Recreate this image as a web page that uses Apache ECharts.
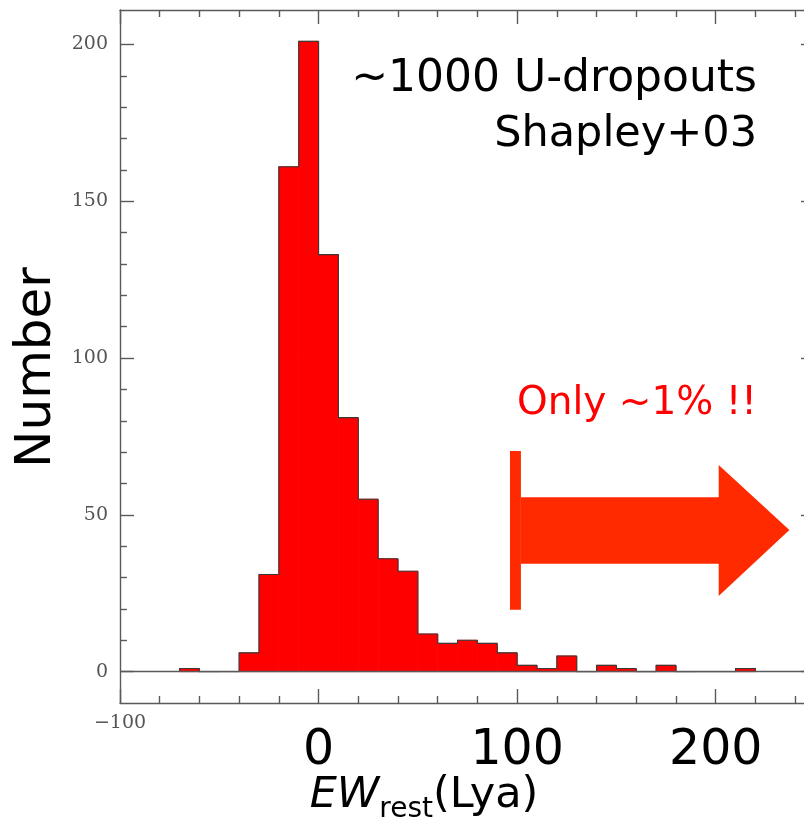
<!DOCTYPE html>
<html>
<head>
<meta charset="utf-8">
<script src="https://cdn.jsdelivr.net/npm/echarts@6/dist/echarts.min.js"></script>
<style>html,body{margin:0;padding:0;background:#fff;}#chart{width:804px;height:834px;}</style>
</head>
<body>
<div id="chart"></div>
<script>
// ---- data ----
const binStarts = [-70,-60,-50,-40,-30,-20,-10,0,10,20,30,40,50,60,70,80,90,100,110,120,130,140,150,160,170,180,190,200,210];
const counts    = [1,0,0,6,31,161,201,133,81,55,36,32,12,9,10,9,6,2,1,5,0,2,1,0,2,0,0,0,1];
const binWidth = 10;

const xMajorTicks = [-100, 0, 100, 200];
const xMinorTicks = [-80,-60,-40,-20,20,40,60,80,120,140,160,180,220,240];
const xSmallLabels = [-100];
const xBigLabels = [0, 100, 200];
const yMajorTicks = [0, 50, 100, 150, 200];
const yMinorTicks = [10,20,30,40,60,70,80,90,110,120,130,140,160,170,180,190];

// arrow annotation (data units)
const arrowBarX = [96.4, 101.9];
const arrowBarY = [19.7, 70.4];
const arrowShaftY = [34.4, 55.6];
const arrowHeadBaseX = 201.5;
const arrowHeadY = [24.1, 65.9];
const arrowTip = [237.1, 45.2];

const textLine1 = '~1000 U-dropouts';
const textLine2 = 'Shapley+03';
const textOnly = 'Only ~1% !!';

// ---- chart ----
const chart = echarts.init(document.getElementById('chart'), null, {renderer: 'canvas'});
const frameColor = '#5a5a5a';
const X_MIN = -100, X_MAX = 250, Y_MIN = -10, Y_MAX = 211;
const sans = 'DejaVu Sans';
const serif = 'DejaVu Serif';

const histData = binStarts.map((s, i) => [s, s + binWidth, counts[i], i > 0 ? counts[i - 1] : 0, i === binStarts.length - 1 ? 1 : 0]);

function xAxisBase(pos) {
  return {type: 'value', min: X_MIN, max: X_MAX, position: pos, splitLine: {show: false},
          axisLine: {show: false, onZero: false}, axisLabel: {show: false}, axisTick: {show: false}};
}
function yAxisBase(pos) {
  return {type: 'value', min: Y_MIN, max: Y_MAX, position: pos, splitLine: {show: false},
          axisLine: {show: false, onZero: false}, axisLabel: {show: false}, axisTick: {show: false}};
}
const lineSty = {color: frameColor, width: 1.4};

const option = {
  backgroundColor: '#fff',
  animation: false,
  grid: {left: 120, right: -11, top: 10, bottom: 131, containLabel: false, outerBoundsMode: 'none'},
  xAxis: [
    Object.assign(xAxisBase('bottom'), {
      axisLine: {show: true, onZero: false, lineStyle: lineSty},
      axisTick: {show: true, inside: true, length: 7, customValues: xMinorTicks, lineStyle: lineSty},
      axisLabel: {show: true, customValues: xSmallLabels, margin: 11, fontFamily: serif, fontSize: 19, color: '#555',
                  formatter: v => (v < 0 ? '\u2212' + Math.abs(v) : String(v))}
    }),
    Object.assign(xAxisBase('bottom'), {
      axisTick: {show: true, inside: true, length: 14, customValues: xMajorTicks, lineStyle: lineSty},
      axisLabel: {show: true, customValues: xBigLabels, margin: 24, fontFamily: sans, fontSize: 49, color: '#000'},
      name: '{it|EW}{sub|rest}{n|(Lya)}',
      nameLocation: 'middle',
      nameGap: 71,
      nameMoveOverlap: false,
      nameTextStyle: {
        padding: [0, 87, 0, 0],
        rich: {
          it: {fontFamily: sans, fontStyle: 'italic', fontSize: 43, lineHeight: 50, verticalAlign: 'top', color: '#000'},
          sub: {fontFamily: sans, fontSize: 28, lineHeight: 28, padding: [41, 0, 0, 0], verticalAlign: 'bottom', color: '#000'},
          n: {fontFamily: sans, fontSize: 43, lineHeight: 50, verticalAlign: 'top', color: '#000'}
        }
      }
    }),
    Object.assign(xAxisBase('top'), {
      axisLine: {show: true, onZero: false, lineStyle: lineSty},
      axisTick: {show: true, inside: true, length: 7, customValues: xMinorTicks, lineStyle: lineSty}
    }),
    Object.assign(xAxisBase('top'), {
      axisTick: {show: true, inside: true, length: 14, customValues: xMajorTicks, lineStyle: lineSty}
    })
  ],
  yAxis: [
    Object.assign(yAxisBase('left'), {
      axisLine: {show: true, onZero: false, lineStyle: lineSty},
      axisTick: {show: true, inside: true, length: 14, customValues: yMajorTicks, lineStyle: lineSty},
      axisLabel: {show: true, customValues: yMajorTicks, margin: 12, fontFamily: serif, fontSize: 19, color: '#555'},
      name: 'Number',
      nameLocation: 'middle',
      nameRotate: 90,
      nameGap: 58,
      nameMoveOverlap: false,
      nameTextStyle: {fontFamily: sans, fontSize: 50, color: '#000', padding: [0, 22, 0, 0]}
    }),
    Object.assign(yAxisBase('left'), {
      axisTick: {show: true, inside: true, length: 7, customValues: yMinorTicks, lineStyle: lineSty}
    }),
    Object.assign(yAxisBase('right'), {
      axisLine: {show: true, onZero: false, lineStyle: lineSty},
      axisTick: {show: true, inside: true, length: 14, customValues: yMajorTicks, lineStyle: lineSty}
    }),
    Object.assign(yAxisBase('right'), {
      axisTick: {show: true, inside: true, length: 7, customValues: yMinorTicks, lineStyle: lineSty}
    })
  ],
  series: [
    {
      type: 'custom',
      name: 'histogram',
      xAxisIndex: 0, yAxisIndex: 0,
      clip: true,
      silent: true,
      data: histData,
      renderItem: function (params, api) {
        const s = api.value(0), e = api.value(1), c = api.value(2), p = api.value(3), last = api.value(4);
        const tl = api.coord([s, c]);
        const br = api.coord([e, 0]);
        const children = [];
        if (c > 0) {
          children.push({type: 'rect', z2: 0, shape: {x: tl[0], y: tl[1], width: br[0] - tl[0], height: br[1] - tl[1]},
                         style: {fill: '#ff0000', stroke: '#ff0000', lineWidth: 0.8}});
        }
        const pts = [api.coord([s, p]), api.coord([s, c]), api.coord([e, c])];
        if (last) pts.push(api.coord([e, 0]));
        children.push({type: 'polyline', z2: 10, shape: {points: pts}, style: {fill: null, stroke: '#3a3a3a', lineWidth: 1.1}});
        return {type: 'group', children: children};
      },
      markLine: {
        silent: true, symbol: 'none', label: {show: false},
        lineStyle: {color: frameColor, width: 1.3, type: 'solid'},
        data: [{yAxis: 0}]
      },
      z: 2
    },
    {
      type: 'custom',
      name: 'arrow',
      xAxisIndex: 0, yAxisIndex: 0,
      silent: true,
      data: [[arrowTip[0], arrowTip[1]]],
      renderItem: function (params, api) {
        const poly = [
          api.coord([arrowBarX[1], arrowShaftY[0]]),
          api.coord([arrowHeadBaseX, arrowShaftY[0]]),
          api.coord([arrowHeadBaseX, arrowHeadY[0]]),
          api.coord([api.value(0), api.value(1)]),
          api.coord([arrowHeadBaseX, arrowHeadY[1]]),
          api.coord([arrowHeadBaseX, arrowShaftY[1]]),
          api.coord([arrowBarX[1], arrowShaftY[1]])
        ];
        const b0 = api.coord([arrowBarX[0], arrowBarY[1]]);
        const b1 = api.coord([arrowBarX[1], arrowBarY[0]]);
        return {type: 'group', children: [
          {type: 'polygon', shape: {points: poly}, style: {fill: '#ff2a00'}},
          {type: 'rect', shape: {x: b0[0], y: b0[1], width: b1[0] - b0[0], height: b1[1] - b0[1]}, style: {fill: '#ff2a00'}}
        ]};
      },
      z: 3
    }
  ],
  graphic: [
    {type: 'text', right: 47, top: 58, style: {text: textLine1, font: '44px "DejaVu Sans"', fill: '#000'}},
    {type: 'text', right: 47, top: 113, style: {text: textLine2, font: '43px "DejaVu Sans"', fill: '#000'}},
    {type: 'text', right: 47, top: 384, style: {text: textOnly, font: '39px "DejaVu Sans"', fill: '#ff0000'}}
  ]
};
chart.setOption(option);
</script>
</body>
</html>
